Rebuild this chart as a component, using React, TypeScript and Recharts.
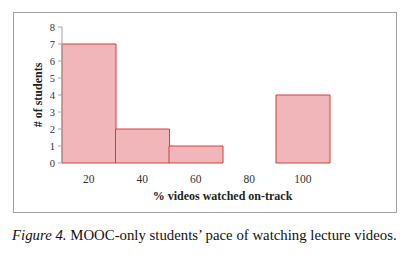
import { BarChart, Bar, XAxis, YAxis } from 'recharts';

// histogram bins (last slot is an empty, unlabeled bin)
const categories = ['20', '40', '60', '80', '100', ''];
const counts = [7, 2, 1, 0, 4, 0];
const yTicks = [0, 1, 2, 3, 4, 5, 6, 7, 8];
const binEdges = [0, 1, 2, 3, 4, 5, 6];

const data = categories.map((c, i) => ({ bin: c, students: counts[i] }));

const SERIF = '"Liberation Serif", "DejaVu Serif", serif';
const AXIS = '#a6a6a6';

export default function App() {
  return (
    <div style={{ position: 'absolute', left: 0, top: 0, width: 418, height: 260, background: '#fff', fontFamily: SERIF }}>
      <div
        style={{
          position: 'absolute',
          left: 13,
          top: 12,
          width: 382,
          height: 199,
          border: '1px solid #a0a0a0',
        }}
      >
        <BarChart
          width={382}
          height={199}
          data={data}
          margin={{ top: 14, right: 13, bottom: 0, left: 0 }}
          barCategoryGap={0}
          barGap={0}
        >
          <XAxis
            xAxisId="edges"
            type="number"
            domain={[0, 6]}
            ticks={binEdges}
            tick={false}
            tickSize={4}
            height={0}
            stroke={AXIS}
            axisLine={{ stroke: AXIS }}
            tickLine={{ stroke: AXIS }}
          />
          <XAxis
            xAxisId="cat"
            dataKey="bin"
            axisLine={false}
            tickLine={false}
            height={49}
            interval={0}
            tickMargin={6}
            tick={{ fontSize: 11.5, fill: '#333', fontFamily: SERIF }}
            label={{
              value: '% videos watched on-track',
              position: 'insideBottom',
              offset: 12,
              style: { fontSize: 12, fontWeight: 'bold', fill: '#222', fontFamily: SERIF },
            }}
          />
          <YAxis
            domain={[0, 8]}
            ticks={yTicks}
            interval={0}
            width={48}
            tickSize={4}
            tickMargin={3}
            axisLine={{ stroke: AXIS }}
            tickLine={{ stroke: AXIS }}
            tick={{ fontSize: 10.5, fill: '#333', fontFamily: SERIF }}
            label={{
              value: '# of students',
              angle: -90,
              position: 'insideLeft',
              offset: 24,
              style: { fontSize: 12, fontWeight: 'bold', fill: '#222', fontFamily: SERIF, textAnchor: 'middle' },
            }}
          />
          <Bar
            xAxisId="cat"
            dataKey="students"
            fill="#f0b6b9"
            stroke="#c8423f"
            strokeWidth={1}
            isAnimationActive={false}
          />
        </BarChart>
      </div>
      <div
        style={{
          position: 'absolute',
          left: 12,
          top: 227,
          fontSize: 14.8,
          color: '#111',
          whiteSpace: 'nowrap',
          fontFamily: SERIF,
        }}
      >
        <i>Figure 4.</i> MOOC-only students’ pace of watching lecture videos.
      </div>
    </div>
  );
}
